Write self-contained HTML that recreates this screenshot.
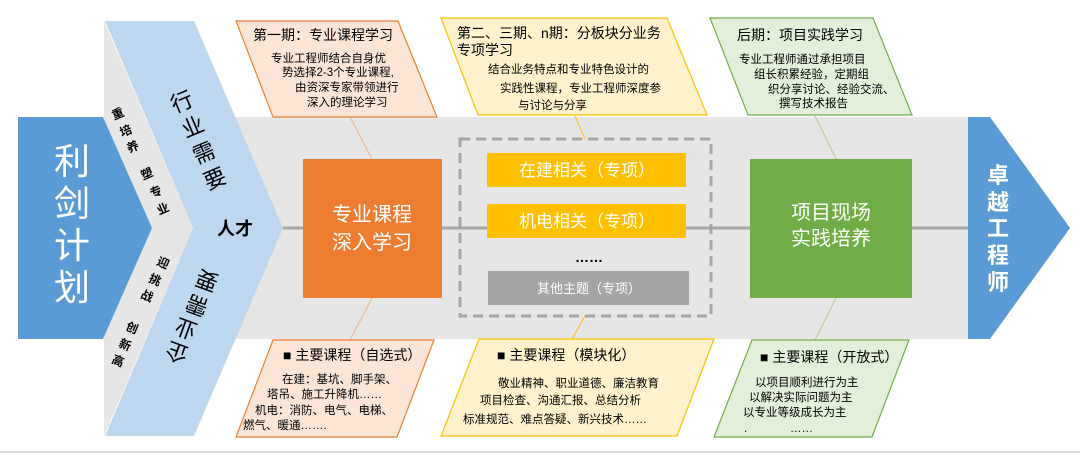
<!DOCTYPE html>
<html><head><meta charset="utf-8"><style>
html,body{margin:0;padding:0;background:#fff;}
svg{display:block;}
text{font-family:"Liberation Sans","Noto Sans CJK SC",sans-serif;}
</style></head><body>
<svg width="1080" height="455" viewBox="0 0 1080 455" xmlns="http://www.w3.org/2000/svg">
<rect width="1080" height="455" fill="#fff"/>
<line x1="0" y1="452" x2="1080" y2="452" stroke="#d9d9d9" stroke-width="2"/>
<rect x="230" y="117" width="740" height="222" fill="#e7e6e6"/>
<polygon points="104,21 193,228 104,436" fill="#e7e6e6"/>
<polygon points="105,21 194,21 283,228 194,436 105,436 193,228" fill="#bdd7ee"/>
<polygon points="18,117 103,117 152,228 103,339 18,339" fill="#5b9bd5"/>
<polygon points="968,117 990,117 1070,228 990,339 968,339" fill="#5b9bd5"/>
<line x1="283" y1="228" x2="968" y2="228" stroke="#a6a6a6" stroke-width="3"/>
<g stroke-width="1">
<line x1="350" y1="117" x2="372" y2="159" stroke="#f4b183"/>
<line x1="372" y1="298" x2="350" y2="340" stroke="#f4b183"/>
<line x1="575" y1="116" x2="585" y2="139" stroke="#ffc000"/>
<line x1="585" y1="316" x2="572" y2="339" stroke="#ffc000"/>
<line x1="815" y1="116" x2="836" y2="159" stroke="#a9d18e"/>
<line x1="836" y1="298" x2="815" y2="340" stroke="#a9d18e"/>
</g>
<polygon points="236,21 398,21 437,117 273,117" fill="#fbe5d6" stroke="#ed7d31" stroke-width="1.2"/>
<polygon points="441,18 667,18 707,115 478,115" fill="#fff2cc" stroke="#ffc000" stroke-width="1.2"/>
<polygon points="710,18 873,18 912,115 748,115" fill="#e2f0d9" stroke="#70ad47" stroke-width="1.2"/>
<polygon points="273,340 434,340 397,437 236,437" fill="#fbe5d6" stroke="#ed7d31" stroke-width="1.2"/>
<polygon points="479,339 714,339 677,436 441,436" fill="#fff2cc" stroke="#ffc000" stroke-width="1.2"/>
<polygon points="752,340 909,340 872,437 714,437" fill="#e2f0d9" stroke="#70ad47" stroke-width="1.2"/>
<rect x="303" y="159" width="139" height="139" fill="#ed7d31"/>
<rect x="750" y="159" width="162" height="139" fill="#70ad47"/>
<rect x="460" y="139" width="251" height="177" fill="none" stroke="#a6a6a6" stroke-width="3" stroke-dasharray="10,6"/>
<rect x="487" y="153" width="199" height="34" fill="#ffc000"/>
<rect x="487" y="204" width="199" height="34" fill="#ffc000"/>
<rect x="488" y="271" width="201" height="34" fill="#a5a5a5"/>
<text x="589" y="262" font-size="14" font-weight="bold" text-anchor="middle" fill="#000">……</text>
<g fill="#fff" font-size="17" text-anchor="middle">
<text x="587" y="176">在建相关（专项）</text>
<text x="587" y="227">机电相关（专项）</text>
</g>
<text x="589" y="293" font-size="13" fill="#fff" text-anchor="middle">其他主题（专项）</text>
<g fill="#fff" font-size="20" text-anchor="middle">
<text x="372" y="221">专业课程</text>
<text x="372" y="249">深入学习</text>
<text x="831" y="219">项目现场</text>
<text x="831" y="245">实践培养</text>
</g>
<g fill="#fff" font-size="36" text-anchor="middle">
<text x="72" y="174">利</text>
<text x="72" y="216">剑</text>
<text x="72" y="258">计</text>
<text x="72" y="300">划</text>
</g>
<g fill="#fff" font-size="22" font-weight="bold" text-anchor="middle">
<text x="998" y="183">卓</text>
<text x="998" y="210">越</text>
<text x="998" y="236">工</text>
<text x="998" y="263">程</text>
<text x="998" y="290">师</text>
</g>
<g font-size="22" fill="#000" text-anchor="middle" dominant-baseline="central">
<text transform="translate(182,102) rotate(-23)">行</text>
<text transform="translate(193,127) rotate(-23)">业</text>
<text transform="translate(204,153) rotate(-23)">需</text>
<text transform="translate(215,179) rotate(-23)">要</text>
<text transform="translate(177,352) rotate(200)">企</text>
<text transform="translate(186,328) rotate(200)">业</text>
<text transform="translate(197,305) rotate(200)">需</text>
<text transform="translate(207,280) rotate(200)">要</text>
</g>
<text x="235" y="235" font-size="18" font-weight="bold" text-anchor="middle" fill="#000">人才</text>
<g font-size="12" font-weight="bold" fill="#000" text-anchor="middle" dominant-baseline="central">
<text transform="translate(118,114) rotate(-23)">重</text>
<text transform="translate(126,131) rotate(-23)">培</text>
<text transform="translate(133,147) rotate(-23)">养</text>
<text transform="translate(147,174) rotate(-23)">塑</text>
<text transform="translate(156,192) rotate(-23)">专</text>
<text transform="translate(163,209) rotate(-23)">业</text>
<text transform="translate(163,263) rotate(23)">迎</text>
<text transform="translate(155,280) rotate(23)">挑</text>
<text transform="translate(147,296) rotate(23)">战</text>
<text transform="translate(132,328) rotate(23)">创</text>
<text transform="translate(125,345) rotate(23)">新</text>
<text transform="translate(118,361) rotate(23)">高</text>
</g>
<g fill="#000">
<text x="253" y="40" font-size="14">第一期：专业课程学习</text>
<g font-size="11.5">
<text x="271" y="62">专业工程师结合自身优</text>
<text x="282" y="76">势选择2-3个专业课程,</text>
<text x="295" y="91">由资深专家带领进行</text>
<text x="307" y="106">深入的理论学习</text>
</g>
<text x="457" y="38" font-size="14">第二、三期、n期：分板块分业务</text>
<text x="457" y="55" font-size="14">专项学习</text>
<g font-size="11.5">
<text x="488" y="73">结合业务特点和专业特色设计的</text>
<text x="500" y="92">实践性课程，专业工程师深度参</text>
<text x="518" y="109">与讨论与分享</text>
</g>
<text x="737" y="40" font-size="14">后期：项目实践学习</text>
<g font-size="11.5">
<text x="739" y="63">专业工程师通过承担项目</text>
<text x="754" y="78">组长积累经验，定期组</text>
<text x="768" y="93">织分享讨论、经验交流、</text>
<text x="779" y="107">撰写技术报告</text>
</g>
<text x="283" y="360" font-size="14">■ 主要课程（自选式）</text>
<g font-size="11.5">
<text x="282" y="383">在建：基坑、脚手架、</text>
<text x="267" y="398">塔吊、施工升降机……</text>
<text x="255" y="414">机电：消防、电气、电梯、</text>
<text x="243" y="429">燃气、暖通…….</text>
</g>
<text x="497" y="360" font-size="14">■ 主要课程（模块化）</text>
<g font-size="11.5">
<text x="498" y="387">敬业精神、职业道德、廉洁教育</text>
<text x="480" y="404">项目检查、沟通汇报、总结分析</text>
<text x="463" y="423">标准规范、难点答疑、新兴技术……</text>
</g>
<text x="760" y="362" font-size="14">■ 主要课程（开放式）</text>
<g font-size="11.5">
<text x="755" y="386">以项目顺利进行为主</text>
<text x="749" y="401">以解决实际问题为主</text>
<text x="743" y="416">以专业等级成长为主</text>
<text x="744" y="432">.</text>
<text x="790" y="432">……</text>
</g>
</g>
</svg>
</body></html>
